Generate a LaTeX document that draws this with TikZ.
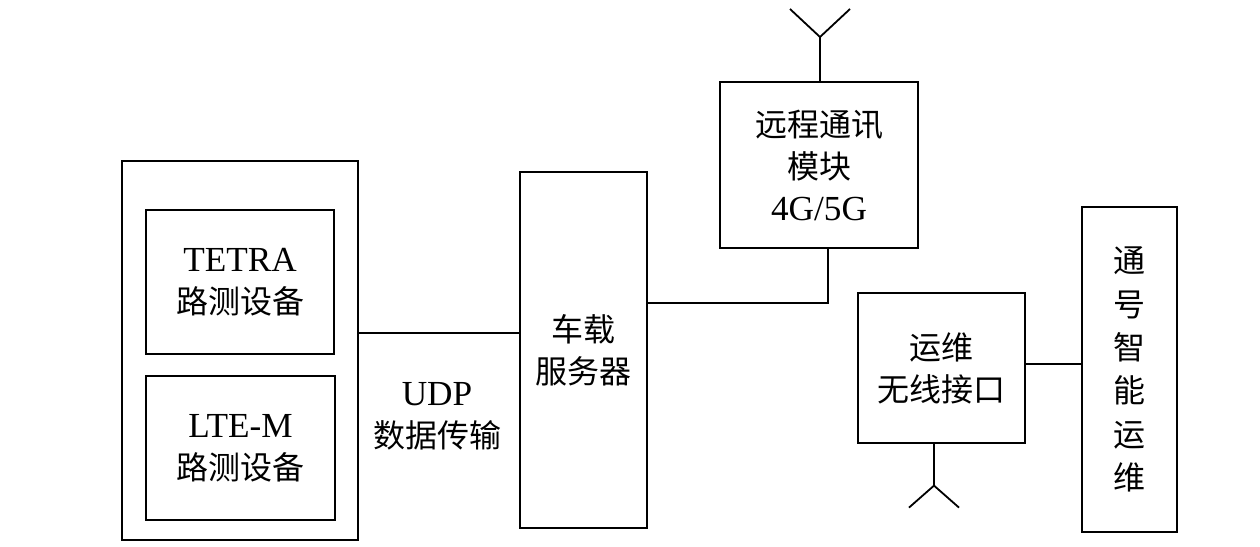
\documentclass[tikz,border=0pt]{standalone}
\usepackage{fontspec}
\setmainfont{Liberation Serif}[Scale=1.1]
\newfontfamily\cjk{Noto Sans CJK SC}
\begin{document}
\begin{tikzpicture}[x=1pt,y=-1pt,line join=miter,line cap=butt,
		box/.style={draw,line width=1.6pt,align=center,inner sep=0pt},
		thinbox/.style={box,line width=1.2pt},
		txt/.style={align=center,font=\fontsize{32}{42}\selectfont},
		wire/.style={line width=1.8pt}]
	\useasboundingbox (0,0) rectangle (1260,546);
	\tikzset{every node/.append style={font=\fontsize{32}{42}\selectfont}}
	% test equipment rack
	\node[box,line width=2pt,minimum width=236pt,minimum height=379pt] (rack) at (240,350.5) {};
	\node[box,line width=2pt,minimum width=188pt,minimum height=144pt] (tetra) at (240,282) {TETRA\\{\cjk 路测设备}};
	\node[box,line width=2pt,minimum width=189pt,minimum height=144pt] (ltem) at (240.5,448) {LTE-M\\{\cjk 路测设备}};
	\node[txt] (udp) at (437,416) {UDP\\{\cjk 数据传输}};
	% server and modules
	\node[thinbox,minimum width=127pt,minimum height=356pt] (srv) at (583.5,350) {{\cjk 车载}\\{\cjk 服务器}};
	\node[box,line width=2pt,minimum width=198pt,minimum height=166pt] (tel) at (819,165) {{\cjk 远程通讯}\\{\cjk 模块}\\4G/5G};
	\node[thinbox,minimum width=167pt,minimum height=150pt] (ops) at (941.5,368) {{\cjk 运维}\\{\cjk 无线接口}};
	\node[thinbox,minimum width=95pt,minimum height=325pt,font=\fontsize{32}{43.4}\selectfont] (sig) at (1129.5,369.5) {\cjk 通\\\cjk 号\\\cjk 智\\\cjk 能\\\cjk 运\\\cjk 维};
	% links
	\draw[wire] ([yshift=17.5pt]rack.east) -- ([yshift=17.5pt]rack.east -| srv.west);
	\draw[wire] ([xshift=9pt]tel.south) |- ([yshift=47pt]srv.east);
	\draw[wire] ([yshift=4pt]ops.east) -- ([yshift=4pt]ops.east -| sig.west);
	% antennas
	\draw[wire] ([xshift=1pt]tel.north) -- ++(0,-44) coordinate (ta);
	\foreach \s in {-1,1}
	\draw[wire] (ta) -- ++(\s*30,-28);
	\draw[wire] ([xshift=-7.5pt]ops.south) -- ++(0,42) coordinate (oa);
	\foreach \s in {-1,1}
	\draw[wire] (oa) -- ++(\s*25,22);
\end{tikzpicture}
\end{document}
